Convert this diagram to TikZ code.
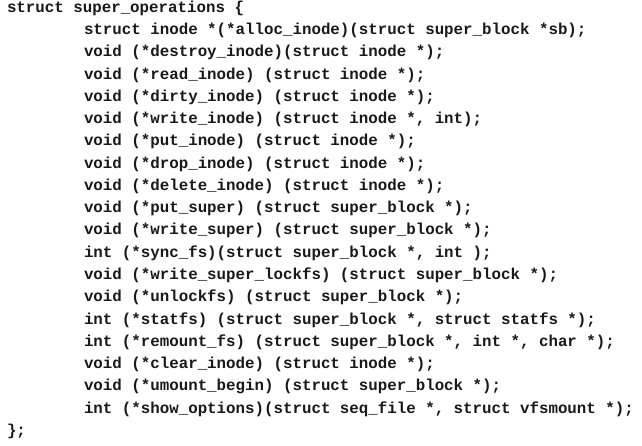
\documentclass[tikz,border=0pt]{standalone}
\usepackage{fontspec}
\setmonofont{Liberation Mono}
\begin{document}
\begin{tikzpicture}[x=1pt,y=-1pt,
  codeline/.style={anchor=base west,inner sep=0pt,outer sep=0pt,
    font=\fontsize{15.8}{16}\selectfont\ttfamily\bfseries,text=black!90}]
\useasboundingbox[fill=white] (0,0) rectangle (642,446);
\def\ls{22.25}
\node[codeline] (l0) at (7,12.5) {struct super\_operations \{};
\node[codeline] (l1) at (84,12.5+1*\ls) {struct inode *(*alloc\_inode)(struct super\_block *sb);};
\node[codeline] (l2) at (84,12.5+2*\ls) {void (*destroy\_inode)(struct inode *);};
\node[codeline] (l3) at (84,12.5+3*\ls) {void (*read\_inode) (struct inode *);};
\node[codeline] (l4) at (84,12.5+4*\ls) {void (*dirty\_inode) (struct inode *);};
\node[codeline] (l5) at (84,12.5+5*\ls) {void (*write\_inode) (struct inode *, int);};
\node[codeline] (l6) at (84,12.5+6*\ls) {void (*put\_inode) (struct inode *);};
\node[codeline] (l7) at (84,12.5+7*\ls) {void (*drop\_inode) (struct inode *);};
\node[codeline] (l8) at (84,12.5+8*\ls) {void (*delete\_inode) (struct inode *);};
\node[codeline] (l9) at (84,12.5+9*\ls) {void (*put\_super) (struct super\_block *);};
\node[codeline] (l10) at (84,12.5+10*\ls) {void (*write\_super) (struct super\_block *);};
\node[codeline] (l11) at (84,12.5+11*\ls) {int (*sync\_fs)(struct super\_block *, int );};
\node[codeline] (l12) at (84,12.5+12*\ls) {void (*write\_super\_lockfs) (struct super\_block *);};
\node[codeline] (l13) at (84,12.5+13*\ls) {void (*unlockfs) (struct super\_block *);};
\node[codeline] (l14) at (84,12.5+14*\ls) {int (*statfs) (struct super\_block *, struct statfs *);};
\node[codeline] (l15) at (84,12.5+15*\ls) {int (*remount\_fs) (struct super\_block *, int *, char *);};
\node[codeline] (l16) at (84,12.5+16*\ls) {void (*clear\_inode) (struct inode *);};
\node[codeline] (l17) at (84,12.5+17*\ls) {void (*umount\_begin) (struct super\_block *);};
\node[codeline] (l18) at (84,12.5+18*\ls) {int (*show\_options)(struct seq\_file *, struct vfsmount *);};
\node[codeline] (l19) at (7,12.5+19*\ls) {\};};
\end{tikzpicture}
\end{document}
